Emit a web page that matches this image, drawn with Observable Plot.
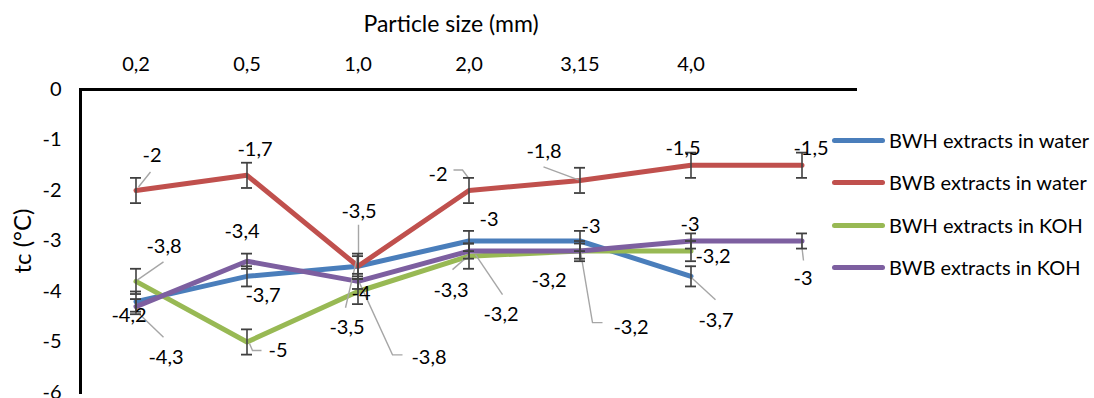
<!DOCTYPE html>
<html>
<head>
<meta charset="utf-8">
<script src="https://cdn.jsdelivr.net/npm/d3@7"></script>
<script src="https://cdn.jsdelivr.net/npm/@observablehq/plot@0.6"></script>
<style>
  html, body { margin: 0; padding: 0; background: #fff; }
  #wrap { position: relative; width: 1094px; height: 398px; font-family: Lato, "Open Sans", sans-serif; }
  #wrap svg { position: absolute; left: 0; top: 0; }
  #legend { position: absolute; left: 832px; top: 126px; }
  .row { position: relative; height: 42.3px; display: flex; align-items: flex-start; }
  .sw { width: 53px; height: 5px; border-radius: 3px; margin-top: 12px; margin-right: 4px; }
  .lt { font-size: 20px; line-height: 28px; color: #000; white-space: nowrap; }
</style>
</head>
<body>
<div id="wrap"></div>
<script>
// ---- data ----
const categories = ["0,2", "0,5", "1,0", "2,0", "3,15", "4,0", ""];
const seriesNames = ["BWH extracts in water", "BWB extracts in water", "BWH extracts in KOH", "BWB extracts in KOH"];
const bwhWater = [-4.2, -3.7, -3.5, -3, -3, -3.7];
const bwbWater = [-2, -1.7, -3.5, -2, -1.8, -1.5, -1.5];
const bwhKOH   = [-3.8, -5, -4, -3.3, -3.2, -3.2];
const bwbKOH   = [-4.3, -3.4, -3.8, -3.2, -3.2, -3, -3];
const bwhWaterErr = [0.2, 0.2, 0.2, 0.2, 0.2, 0.2];
const bwbWaterErr = [0.25, 0.25, 0.25, 0.25, 0.25, 0.25, 0.25];
const bwhKOHErr   = [0.25, 0.25, 0.25, 0.25, 0.2, 0.2];
const bwbKOHErr   = [0.15, 0.15, 0.15, 0.15, 0.15, 0.15, 0.15];
const yTicks = [0, -1, -2, -3, -4, -5, -6];
const xTitle = "Particle size (mm)";
const yTitle = "tc (°C)";

// ---- styles / layout ----
const colors = ["#4a7ebb", "#c0504d", "#98b954", "#7d5fa0"];
const seriesValues = [bwhWater, bwbWater, bwhKOH, bwbKOH];
const seriesErr = [bwhWaterErr, bwbWaterErr, bwhKOHErr, bwbKOHErr];
// label offsets (px) relative to point
const labelOffsets = [
  [[-7, 14], [16, 19], [-11, 61], [20, -21], [11, -14], [25, 44]],
  [[16, -35], [8, -26], [1, -55], [-31, -16], [-36, -29], [-8, -17], [9, -17]],
  [[28, -35], [31, 9], [3, 2], [-18, 34], [-31, 29], [22, 5]],
  [[30, 51], [-5, -30], [71, 76], [32, 63], [51, 76], [-1, -16], [1, 38]]
];
// leader lines (px offsets relative to point)
const leaders = [
  {s: 0, i: 2, pts: [[0, -10], [-12, 42]]},
  {s: 0, i: 5, pts: [[0, 1], [25, 24]]},
  {s: 1, i: 0, pts: [[3, -3], [15, -18]]},
  {s: 1, i: 2, pts: [[1, -41], [1, -3]]},
  {s: 1, i: 3, pts: [[-15, -20], [-6, -20], [0, -12]]},
  {s: 1, i: 4, pts: [[-36, -13], [-1, 0]]},
  {s: 2, i: 0, pts: [[2, -1], [28, -19]]},
  {s: 2, i: 1, pts: [[3, 2], [6, 9], [15, 9]]},
  {s: 2, i: 3, pts: [[0, 0], [-16, 14]]},
  {s: 3, i: 0, pts: [[3, 7], [28, 31]]},
  {s: 3, i: 2, pts: [[2, 2], [35, 74], [45, 74]]},
  {s: 3, i: 3, pts: [[7, 4], [34, 44]]},
  {s: 3, i: 4, pts: [[1, 1], [13, 72], [23, 72]]},
  {s: 3, i: 6, pts: [[0, 3], [2, 20]]}
];

const rows = [];
seriesValues.forEach((vals, s) => vals.forEach((v, i) => rows.push({
  s, name: seriesNames[s], cat: categories[i], i, v, e: seriesErr[s][i],
  label: String(v).replace(".", ",")
})));

const fontFamily = "Lato, 'Open Sans', sans-serif";
const marks = [];
marks.push(Plot.ruleY([0], {stroke: "#000", strokeWidth: 3}));
marks.push(Plot.frame({anchor: "left", stroke: "#000", strokeWidth: 3}));
seriesValues.forEach((vals, s) => {
  marks.push(Plot.line(rows.filter(d => d.s === s), {x: "cat", y: "v", stroke: colors[s], strokeWidth: 5, strokeLinejoin: "round", strokeLinecap: "round"}));
});
// leaders
marks.push((index, scales) => {
  const x = scales.x, y = scales.y;
  const bw = x.bandwidth ? x.bandwidth() : 0;
  const g = d3.create("svg:g").attr("fill", "none").attr("stroke", "#a6a6a6").attr("stroke-width", 1.4);
  for (const l of leaders) {
    const px = x(categories[l.i]) + bw / 2, py = y(seriesValues[l.s][l.i]);
    g.append("path").attr("d", d3.line()(l.pts.map(([dx, dy]) => [px + dx, py + dy])));
  }
  return g.node();
});
// error bars
marks.push(Plot.ruleX(rows, {x: "cat", y1: d => d.v - d.e, y2: d => d.v + d.e, stroke: "#404040", strokeWidth: 1.6}));
marks.push(Plot.tickY(rows, {x: "cat", y: d => d.v - d.e, stroke: "#404040", strokeWidth: 1.8, insetLeft: 50, insetRight: 50}));
marks.push(Plot.tickY(rows, {x: "cat", y: d => d.v + d.e, stroke: "#404040", strokeWidth: 1.8, insetLeft: 50, insetRight: 50}));
// data labels
rows.forEach(d => {
  const [dx, dy] = labelOffsets[d.s][d.i];
  marks.push(Plot.text([d], {x: "cat", y: "v", text: "label", dx, dy, fill: "#000", fontSize: 20, lineAnchor: "middle", textAnchor: "middle"}));
});
// titles
marks.push(Plot.text([xTitle], {text: d => d, frameAnchor: "top", textAnchor: "middle", dx: -18, dy: -65, fontSize: 23, lineAnchor: "middle", fill: "#000"}));
marks.push(Plot.text([yTitle], {text: d => d, frameAnchor: "left", textAnchor: "middle", dx: -57, rotate: -90, fontSize: 24, lineAnchor: "middle", fill: "#000"}));

const chart = Plot.plot({
  width: 1094,
  height: 398,
  marginTop: 89,
  marginBottom: 6,
  marginLeft: 80,
  marginRight: 237,
  style: {fontFamily, fontSize: "20px", color: "#000", background: "transparent"},
  x: {type: "band", domain: categories, padding: 0, axis: "top", tickSize: 0, tickPadding: 19, label: null},
  y: {domain: [-6, 0], ticks: yTicks, tickSize: 0, tickPadding: 19, label: null, tickFormat: d => String(d)},
  marks
});
document.getElementById("wrap").appendChild(chart);

// legend
const legend = document.createElement("div");
legend.id = "legend";
seriesNames.forEach((n, s) => {
  const r = document.createElement("div"); r.className = "row";
  const sw = document.createElement("div"); sw.className = "sw"; sw.style.background = colors[s];
  const t = document.createElement("div"); t.className = "lt"; t.textContent = n;
  r.appendChild(sw); r.appendChild(t); legend.appendChild(r);
});
document.getElementById("wrap").appendChild(legend);
</script>
</body>
</html>
